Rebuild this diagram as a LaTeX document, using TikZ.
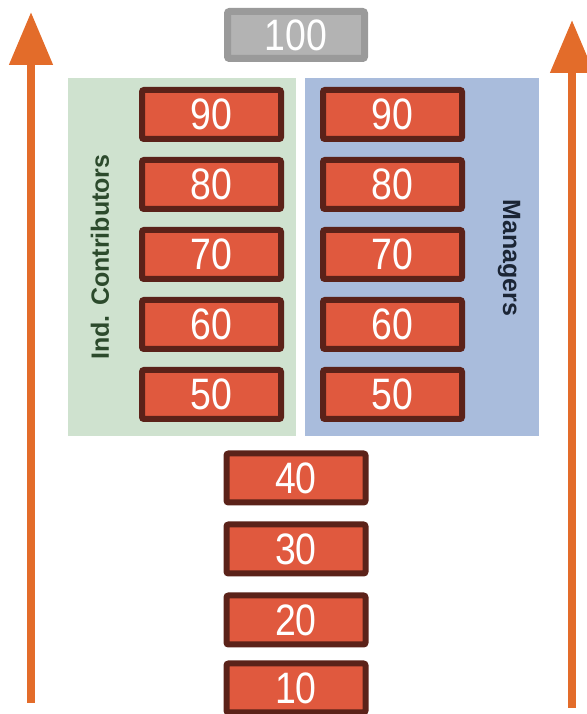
\documentclass[tikz,border=0pt]{standalone}
\usepackage{fontspec}
\setmainfont{Liberation Sans}
\usetikzlibrary{arrows.meta}
\definecolor{boxfill}{HTML}{E0593E}
\definecolor{boxedge}{HTML}{5B2219}
\definecolor{grayfill}{HTML}{B3B3B3}
\definecolor{grayedge}{HTML}{9A9A9A}
\definecolor{greenpanel}{HTML}{CFE2CF}
\definecolor{bluepanel}{HTML}{A9BCDC}
\definecolor{greentext}{HTML}{2C4A2C}
\definecolor{bluetext}{HTML}{1B2535}
\definecolor{arrowcol}{HTML}{E36C2A}
\tikzset{
  level/.style={draw=boxedge, fill=boxfill, line width=6pt, rounded corners=2pt,
    minimum width=139pt, minimum height=49pt, inner sep=0pt, text=white,
    font=\fontsize{44}{44}\selectfont},
  toplevel/.style={level, draw=grayedge, fill=grayfill, minimum width=137pt, minimum height=47pt, line width=7pt},
  panel/.style={draw=none, inner sep=0pt},
  uparrow/.style={draw=arrowcol, line width=8pt, -{Triangle[length=53pt,width=42pt]}},
  label/.style={font=\bfseries\fontsize{25}{25}\selectfont}
}
\newcommand{\num}[1]{\scalebox{0.85}[1]{#1}}
\begin{document}
\begin{tikzpicture}[x=1pt,y=1pt]
\useasboundingbox (0,0) rectangle (586,714);
% panels
\node[panel, fill=greenpanel, minimum width=228pt, minimum height=358pt] (ic) at (182,457) {};
\node[panel, fill=bluepanel, minimum width=234pt, minimum height=358pt] (mg) at (422,457) {};
\node[label, text=greentext, rotate=90] (iclab) at (100,457) {Ind. Contributors};
\node[label, text=bluetext, rotate=-90] (mglab) at (509,456) {Managers};
% top
\node[toplevel] (l100) at (296,679) {\num{100}};
% left column
\node[level] (a90) at (211.5,599.5) {\num{90}};
\node[level] (a80) at (211.5,529.5) {\num{80}};
\node[level] (a70) at (211.5,459.5) {\num{70}};
\node[level] (a60) at (211.5,389.5) {\num{60}};
\node[level] (a50) at (211.5,319.5) {\num{50}};
% right column
\node[level] (b90) at (392.5,599.5) {\num{90}};
\node[level] (b80) at (392.5,529.5) {\num{80}};
\node[level] (b70) at (392.5,459.5) {\num{70}};
\node[level] (b60) at (392.5,389.5) {\num{60}};
\node[level] (b50) at (392.5,319.5) {\num{50}};
% bottom column
\node[level] (c40) at (296,236) {\num{40}};
\node[level] (c30) at (296,165) {\num{30}};
\node[level] (c20) at (296,94) {\num{20}};
\node[level] (c10) at (296,26) {\num{10}};
% arrows
\coordinate (la0) at (31,11);
\coordinate (la1) at (31,702);
\coordinate (ra0) at (572,6);
\coordinate (ra1) at (572,694);
\draw[uparrow] (la0) -- (la1);
\draw[uparrow] (ra0) -- (ra1);
\end{tikzpicture}
\end{document}
